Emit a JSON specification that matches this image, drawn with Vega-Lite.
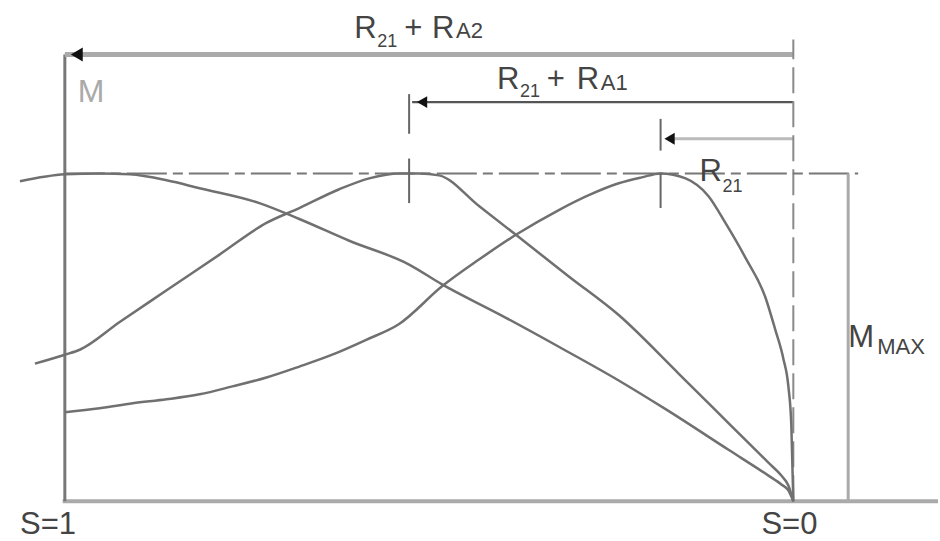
{
  "$schema": "https://vega.github.io/schema/vega-lite/v6.json",
  "width": 940,
  "height": 541,
  "autosize": {"type": "fit", "contains": "padding"},
  "padding": 0,
  "background": "white",
  "config": {"view": {"stroke": null}},
  "datasets": {
    "curves": [
      {"curve": "R21", "s": 1.0, "M": 0.2719},
      {"curve": "R21", "s": 0.9521, "M": 0.2840},
      {"curve": "R21", "s": 0.9068, "M": 0.2991},
      {"curve": "R21", "s": 0.8603, "M": 0.3112},
      {"curve": "R21", "s": 0.8151, "M": 0.3263},
      {"curve": "R21", "s": 0.7699, "M": 0.3505},
      {"curve": "R21", "s": 0.7233, "M": 0.3776},
      {"curve": "R21", "s": 0.6781, "M": 0.4109},
      {"curve": "R21", "s": 0.6329, "M": 0.4471},
      {"curve": "R21", "s": 0.5863, "M": 0.4924},
      {"curve": "R21", "s": 0.5411, "M": 0.5408},
      {"curve": "R21", "s": 0.4822, "M": 0.6556},
      {"curve": "R21", "s": 0.4315, "M": 0.7372},
      {"curve": "R21", "s": 0.3808, "M": 0.8127},
      {"curve": "R21", "s": 0.3219, "M": 0.8882},
      {"curve": "R21", "s": 0.2808, "M": 0.9335},
      {"curve": "R21", "s": 0.2397, "M": 0.9698},
      {"curve": "R21", "s": 0.2082, "M": 0.9879},
      {"curve": "R21", "s": 0.1822, "M": 1.0},
      {"curve": "R21", "s": 0.1479, "M": 0.9849},
      {"curve": "R21", "s": 0.1164, "M": 0.9305},
      {"curve": "R21", "s": 0.0932, "M": 0.8489},
      {"curve": "R21", "s": 0.0658, "M": 0.7432},
      {"curve": "R21", "s": 0.0384, "M": 0.6224},
      {"curve": "R21", "s": 0.0247, "M": 0.5227},
      {"curve": "R21", "s": 0.0137, "M": 0.4350},
      {"curve": "R21", "s": 0.0068, "M": 0.3505},
      {"curve": "R21", "s": 0.0027, "M": 0.2296},
      {"curve": "R21", "s": 0.0, "M": 0.0},
      {"curve": "R21+RA1", "s": 1.0411, "M": 0.4199},
      {"curve": "R21+RA1", "s": 1.0, "M": 0.4471},
      {"curve": "R21+RA1", "s": 0.9795, "M": 0.4622},
      {"curve": "R21+RA1", "s": 0.9247, "M": 0.5468},
      {"curve": "R21+RA1", "s": 0.8603, "M": 0.6435},
      {"curve": "R21+RA1", "s": 0.7877, "M": 0.7523},
      {"curve": "R21+RA1", "s": 0.7233, "M": 0.8489},
      {"curve": "R21+RA1", "s": 0.6781, "M": 0.8943},
      {"curve": "R21+RA1", "s": 0.6233, "M": 0.9517},
      {"curve": "R21+RA1", "s": 0.5822, "M": 0.9849},
      {"curve": "R21+RA1", "s": 0.5411, "M": 1.0},
      {"curve": "R21+RA1", "s": 0.5137, "M": 1.0},
      {"curve": "R21+RA1", "s": 0.4863, "M": 0.9940},
      {"curve": "R21+RA1", "s": 0.4315, "M": 0.9003},
      {"curve": "R21+RA1", "s": 0.3808, "M": 0.8127},
      {"curve": "R21+RA1", "s": 0.3082, "M": 0.6858},
      {"curve": "R21+RA1", "s": 0.2397, "M": 0.5680},
      {"curve": "R21+RA1", "s": 0.1575, "M": 0.3897},
      {"curve": "R21+RA1", "s": 0.0849, "M": 0.2296},
      {"curve": "R21+RA1", "s": 0.0342, "M": 0.1178},
      {"curve": "R21+RA1", "s": 0.0164, "M": 0.0785},
      {"curve": "R21+RA1", "s": 0.0068, "M": 0.0483},
      {"curve": "R21+RA1", "s": 0.0, "M": 0.0},
      {"curve": "R21+RA2", "s": 1.0616, "M": 0.9758},
      {"curve": "R21+RA2", "s": 1.0, "M": 0.997},
      {"curve": "R21+RA2", "s": 0.9521, "M": 1.0},
      {"curve": "R21+RA2", "s": 0.911, "M": 0.997},
      {"curve": "R21+RA2", "s": 0.8603, "M": 0.9789},
      {"curve": "R21+RA2", "s": 0.8151, "M": 0.9547},
      {"curve": "R21+RA2", "s": 0.7329, "M": 0.9094},
      {"curve": "R21+RA2", "s": 0.6781, "M": 0.8610},
      {"curve": "R21+RA2", "s": 0.6096, "M": 0.7946},
      {"curve": "R21+RA2", "s": 0.5274, "M": 0.7221},
      {"curve": "R21+RA2", "s": 0.4822, "M": 0.6616},
      {"curve": "R21+RA2", "s": 0.4041, "M": 0.5710},
      {"curve": "R21+RA2", "s": 0.3219, "M": 0.4713},
      {"curve": "R21+RA2", "s": 0.2397, "M": 0.3686},
      {"curve": "R21+RA2", "s": 0.1753, "M": 0.2810},
      {"curve": "R21+RA2", "s": 0.0890, "M": 0.1571},
      {"curve": "R21+RA2", "s": 0.0342, "M": 0.0785},
      {"curve": "R21+RA2", "s": 0.0164, "M": 0.0514},
      {"curve": "R21+RA2", "s": 0.0068, "M": 0.0332},
      {"curve": "R21+RA2", "s": 0.0, "M": 0.0}
    ],
    "rules": [
      {"kind": "base", "s1": 1.003, "s2": -0.1986, "m1": 0, "m2": 0},
      {"kind": "axis", "s1": 1.0, "s2": 1.0, "m1": 0, "m2": 1.3625},
      {"kind": "top", "s1": 1.0, "s2": 0.0, "m1": 1.3625, "m2": 1.3625},
      {"kind": "mid", "s1": 0.5233, "s2": 0.0, "m1": 1.2175, "m2": 1.2175},
      {"kind": "low", "s1": 0.1685, "s2": 0.0, "m1": 1.1057, "m2": 1.1057},
      {"kind": "zero", "s1": 0.0, "s2": 0.0, "m1": 0, "m2": 1.4079},
      {"kind": "mmax", "s1": 1.0, "s2": -0.0890, "m1": 1.0, "m2": 1.0},
      {"kind": "mmaxv", "s1": -0.0753, "s2": -0.0753, "m1": 0, "m2": 1.0},
      {"kind": "tick", "s1": 0.5274, "s2": 0.5274, "m1": 1.1208, "m2": 1.2417},
      {"kind": "tick", "s1": 0.5274, "s2": 0.5274, "m1": 0.9094, "m2": 1.0453},
      {"kind": "tick", "s1": 0.1822, "s2": 0.1822, "m1": 1.0695, "m2": 1.1662},
      {"kind": "tick", "s1": 0.1822, "s2": 0.1822, "m1": 0.8943, "m2": 1.0}
    ],
    "arrowsBig": [
      {"s": 0.9836, "M": 1.3625}
    ],
    "arrows": [
      {"s": 0.5096, "M": 1.2175},
      {"s": 0.1699, "M": 1.1057}
    ],
    "bigText": [
      {"t": "R", "s": 0.6027, "M": 1.4139},
      {"t": "+", "s": 0.5342, "M": 1.4139},
      {"t": "R", "s": 0.4959, "M": 1.4139},
      {"t": "R", "s": 0.4068, "M": 1.2568},
      {"t": "+", "s": 0.3384, "M": 1.2568},
      {"t": "R", "s": 0.2973, "M": 1.2568},
      {"t": "R", "s": 0.1288, "M": 0.9758},
      {"t": "M", "s": -0.0753, "M": 0.4713},
      {"t": "S=1", "s": 1.0616, "M": -0.0997},
      {"t": "S=0", "s": 0.0438, "M": -0.0997}
    ],
    "subText": [
      {"t": "21", "s": 0.5712, "M": 1.3867},
      {"t": "21", "s": 0.3753, "M": 1.2326},
      {"t": "21", "s": 0.0973, "M": 0.9426}
    ],
    "capText": [
      {"t": "A2", "s": 0.4630, "M": 1.4139},
      {"t": "A1", "s": 0.2644, "M": 1.2538},
      {"t": "MAX", "s": -0.1151, "M": 0.4502}
    ],
    "grayText": [
      {"t": "M", "s": 0.9822, "M": 1.2175}
    ]
  },
  "layer": [
    {
      "data": {"name": "rules"},
      "transform": [{"filter": "datum.kind === 'base'"}],
      "mark": {"type": "rule", "color": "#aaaaaa", "strokeWidth": 4},
      "encoding": {
        "x": {"field": "s1", "type": "quantitative", "scale": {"domain": [-0.1986, 1.089], "reverse": true, "nice": false, "zero": false}, "axis": null},
        "x2": {"field": "s2"},
        "y": {"field": "m1", "type": "quantitative", "scale": {"domain": [-0.1057, 1.5287], "nice": false, "zero": false}, "axis": null},
        "y2": {"field": "m2"}
      }
    },
    {
      "data": {"name": "rules"},
      "transform": [{"filter": "datum.kind === 'axis'"}],
      "mark": {"type": "rule", "color": "#777777", "strokeWidth": 3},
      "encoding": {
        "x": {"field": "s1", "type": "quantitative", "scale": {"domain": [-0.1986, 1.089], "reverse": true, "nice": false, "zero": false}, "axis": null},
        "x2": {"field": "s2"},
        "y": {"field": "m1", "type": "quantitative", "scale": {"domain": [-0.1057, 1.5287], "nice": false, "zero": false}, "axis": null},
        "y2": {"field": "m2"}
      }
    },
    {
      "data": {"name": "rules"},
      "transform": [{"filter": "datum.kind === 'top'"}],
      "mark": {"type": "rule", "color": "#aaaaaa", "strokeWidth": 5},
      "encoding": {
        "x": {"field": "s1", "type": "quantitative", "scale": {"domain": [-0.1986, 1.089], "reverse": true, "nice": false, "zero": false}, "axis": null},
        "x2": {"field": "s2"},
        "y": {"field": "m1", "type": "quantitative", "scale": {"domain": [-0.1057, 1.5287], "nice": false, "zero": false}, "axis": null},
        "y2": {"field": "m2"}
      }
    },
    {
      "data": {"name": "rules"},
      "transform": [{"filter": "datum.kind === 'mid'"}],
      "mark": {"type": "rule", "color": "#555555", "strokeWidth": 2.2},
      "encoding": {
        "x": {"field": "s1", "type": "quantitative", "scale": {"domain": [-0.1986, 1.089], "reverse": true, "nice": false, "zero": false}, "axis": null},
        "x2": {"field": "s2"},
        "y": {"field": "m1", "type": "quantitative", "scale": {"domain": [-0.1057, 1.5287], "nice": false, "zero": false}, "axis": null},
        "y2": {"field": "m2"}
      }
    },
    {
      "data": {"name": "rules"},
      "transform": [{"filter": "datum.kind === 'low'"}],
      "mark": {"type": "rule", "color": "#bbbbbb", "strokeWidth": 3},
      "encoding": {
        "x": {"field": "s1", "type": "quantitative", "scale": {"domain": [-0.1986, 1.089], "reverse": true, "nice": false, "zero": false}, "axis": null},
        "x2": {"field": "s2"},
        "y": {"field": "m1", "type": "quantitative", "scale": {"domain": [-0.1057, 1.5287], "nice": false, "zero": false}, "axis": null},
        "y2": {"field": "m2"}
      }
    },
    {
      "data": {"name": "rules"},
      "transform": [{"filter": "datum.kind === 'zero'"}],
      "mark": {"type": "rule", "color": "#8a8a8a", "strokeWidth": 2, "strokeDash": [26, 8]},
      "encoding": {
        "x": {"field": "s1", "type": "quantitative", "scale": {"domain": [-0.1986, 1.089], "reverse": true, "nice": false, "zero": false}, "axis": null},
        "x2": {"field": "s2"},
        "y": {"field": "m1", "type": "quantitative", "scale": {"domain": [-0.1057, 1.5287], "nice": false, "zero": false}, "axis": null},
        "y2": {"field": "m2"}
      }
    },
    {
      "data": {"name": "rules"},
      "transform": [{"filter": "datum.kind === 'mmax'"}],
      "mark": {"type": "rule", "color": "#777777", "strokeWidth": 2, "strokeDash": [40, 6, 10, 6]},
      "encoding": {
        "x": {"field": "s1", "type": "quantitative", "scale": {"domain": [-0.1986, 1.089], "reverse": true, "nice": false, "zero": false}, "axis": null},
        "x2": {"field": "s2"},
        "y": {"field": "m1", "type": "quantitative", "scale": {"domain": [-0.1057, 1.5287], "nice": false, "zero": false}, "axis": null},
        "y2": {"field": "m2"}
      }
    },
    {
      "data": {"name": "rules"},
      "transform": [{"filter": "datum.kind === 'mmaxv'"}],
      "mark": {"type": "rule", "color": "#aaaaaa", "strokeWidth": 3},
      "encoding": {
        "x": {"field": "s1", "type": "quantitative", "scale": {"domain": [-0.1986, 1.089], "reverse": true, "nice": false, "zero": false}, "axis": null},
        "x2": {"field": "s2"},
        "y": {"field": "m1", "type": "quantitative", "scale": {"domain": [-0.1057, 1.5287], "nice": false, "zero": false}, "axis": null},
        "y2": {"field": "m2"}
      }
    },
    {
      "data": {"name": "curves"},
      "mark": {"type": "line", "color": "#707070", "strokeWidth": 2.5, "interpolate": "monotone"},
      "encoding": {
        "x": {"field": "s", "type": "quantitative", "scale": {"domain": [-0.1986, 1.089], "reverse": true, "nice": false, "zero": false}, "axis": null},
        "y": {"field": "M", "type": "quantitative", "scale": {"domain": [-0.1057, 1.5287], "nice": false, "zero": false}, "axis": null},
        "detail": {"field": "curve", "type": "nominal"},
        "order": {"field": "s", "sort": "descending"}
      }
    },
    {
      "data": {"name": "rules"},
      "transform": [{"filter": "datum.kind === 'tick'"}],
      "mark": {"type": "rule", "color": "#666666", "strokeWidth": 2},
      "encoding": {
        "x": {"field": "s1", "type": "quantitative", "scale": {"domain": [-0.1986, 1.089], "reverse": true, "nice": false, "zero": false}, "axis": null},
        "x2": {"field": "s2"},
        "y": {"field": "m1", "type": "quantitative", "scale": {"domain": [-0.1057, 1.5287], "nice": false, "zero": false}, "axis": null},
        "y2": {"field": "m2"}
      }
    },
    {
      "data": {"name": "arrowsBig"},
      "mark": {"type": "point", "shape": "triangle-left", "filled": true, "color": "#111111", "size": 190, "opacity": 1},
      "encoding": {
        "x": {"field": "s", "type": "quantitative", "scale": {"domain": [-0.1986, 1.089], "reverse": true, "nice": false, "zero": false}, "axis": null},
        "y": {"field": "M", "type": "quantitative", "scale": {"domain": [-0.1057, 1.5287], "nice": false, "zero": false}, "axis": null}
      }
    },
    {
      "data": {"name": "arrows"},
      "mark": {"type": "point", "shape": "triangle-left", "filled": true, "color": "#111111", "size": 140, "opacity": 1},
      "encoding": {
        "x": {"field": "s", "type": "quantitative", "scale": {"domain": [-0.1986, 1.089], "reverse": true, "nice": false, "zero": false}, "axis": null},
        "y": {"field": "M", "type": "quantitative", "scale": {"domain": [-0.1057, 1.5287], "nice": false, "zero": false}, "axis": null}
      }
    },
    {
      "data": {"name": "bigText"},
      "mark": {"type": "text", "font": "Liberation Sans", "fontSize": 31, "color": "#444444", "align": "left", "baseline": "alphabetic"},
      "encoding": {
        "x": {"field": "s", "type": "quantitative", "scale": {"domain": [-0.1986, 1.089], "reverse": true, "nice": false, "zero": false}, "axis": null},
        "y": {"field": "M", "type": "quantitative", "scale": {"domain": [-0.1057, 1.5287], "nice": false, "zero": false}, "axis": null},
        "text": {"field": "t", "type": "nominal"}
      }
    },
    {
      "data": {"name": "subText"},
      "mark": {"type": "text", "font": "Liberation Sans", "fontSize": 18, "color": "#444444", "align": "left", "baseline": "alphabetic"},
      "encoding": {
        "x": {"field": "s", "type": "quantitative", "scale": {"domain": [-0.1986, 1.089], "reverse": true, "nice": false, "zero": false}, "axis": null},
        "y": {"field": "M", "type": "quantitative", "scale": {"domain": [-0.1057, 1.5287], "nice": false, "zero": false}, "axis": null},
        "text": {"field": "t", "type": "nominal"}
      }
    },
    {
      "data": {"name": "capText"},
      "mark": {"type": "text", "font": "Liberation Sans", "fontSize": 22, "color": "#444444", "align": "left", "baseline": "alphabetic"},
      "encoding": {
        "x": {"field": "s", "type": "quantitative", "scale": {"domain": [-0.1986, 1.089], "reverse": true, "nice": false, "zero": false}, "axis": null},
        "y": {"field": "M", "type": "quantitative", "scale": {"domain": [-0.1057, 1.5287], "nice": false, "zero": false}, "axis": null},
        "text": {"field": "t", "type": "nominal"}
      }
    },
    {
      "data": {"name": "grayText"},
      "mark": {"type": "text", "font": "Liberation Sans", "fontSize": 32, "color": "#aaaaaa", "align": "left", "baseline": "alphabetic"},
      "encoding": {
        "x": {"field": "s", "type": "quantitative", "scale": {"domain": [-0.1986, 1.089], "reverse": true, "nice": false, "zero": false}, "axis": null},
        "y": {"field": "M", "type": "quantitative", "scale": {"domain": [-0.1057, 1.5287], "nice": false, "zero": false}, "axis": null},
        "text": {"field": "t", "type": "nominal"}
      }
    }
  ]
}
